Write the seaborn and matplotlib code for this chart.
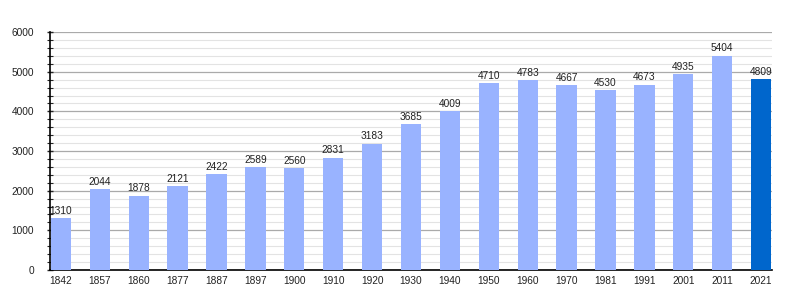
import matplotlib
matplotlib.use("Agg")
import matplotlib.pyplot as plt
import seaborn as sns
import pandas as pd
from matplotlib.ticker import MultipleLocator

years = ["1842", "1857", "1860", "1877", "1887", "1897", "1900", "1910", "1920", "1930",
         "1940", "1950", "1960", "1970", "1981", "1991", "2001", "2011", "2021"]
population = [1310, 2044, 1878, 2121, 2422, 2589, 2560, 2831, 3183, 3685,
              4009, 4710, 4783, 4667, 4530, 4673, 4935, 5404, 4809]

light = "#99b3ff"
dark = "#0066cc"
colors = [light] * (len(years) - 1) + [dark]

df = pd.DataFrame({"year": years, "pop": population})

sns.set_style("white")
plt.rcParams['font.family'] = ['Liberation Sans', 'DejaVu Sans']

fig = plt.figure(figsize=(8, 3), dpi=100)
ax = fig.add_axes([0.0625, 0.1, 0.9025, 0.793])

sns.barplot(data=df, x="year", y="pop", hue="year", palette=colors, legend=False,
            width=0.52, ax=ax, saturation=1, linewidth=0, edgecolor="none", zorder=3)

ax.set_ylim(0, 6000)
ax.set_xlim(-0.28, len(years) - 1 + 0.28)
ax.yaxis.set_major_locator(MultipleLocator(1000))
ax.yaxis.set_minor_locator(MultipleLocator(200))
ax.grid(axis="y", which="major", color="#aaaaaa", linewidth=0.9, zorder=0)
ax.grid(axis="y", which="minor", color="#e3e3e3", linewidth=0.8, zorder=0)
ax.set_axisbelow(True)

for s in ["top", "right"]:
    ax.spines[s].set_visible(False)
for s in ["left", "bottom"]:
    ax.spines[s].set_color("black")
    ax.spines[s].set_linewidth(1.2)

ax.tick_params(axis="y", which="major", length=5, width=1, direction="inout", left=True,
               labelsize=7.3, pad=9, labelcolor="#222222")
ax.tick_params(axis="y", which="minor", length=4, width=0.8, direction="inout", left=True)
ax.tick_params(axis="x", length=0, labelsize=7.3, pad=4, labelcolor="#222222")
ax.set_xlabel("")
ax.set_ylabel("")

for i, v in enumerate(population):
    ax.text(i, v + 60, str(v), ha="center", va="bottom", fontsize=7.3, color="#222222", zorder=4)

fig.savefig("out.png", dpi=100)
